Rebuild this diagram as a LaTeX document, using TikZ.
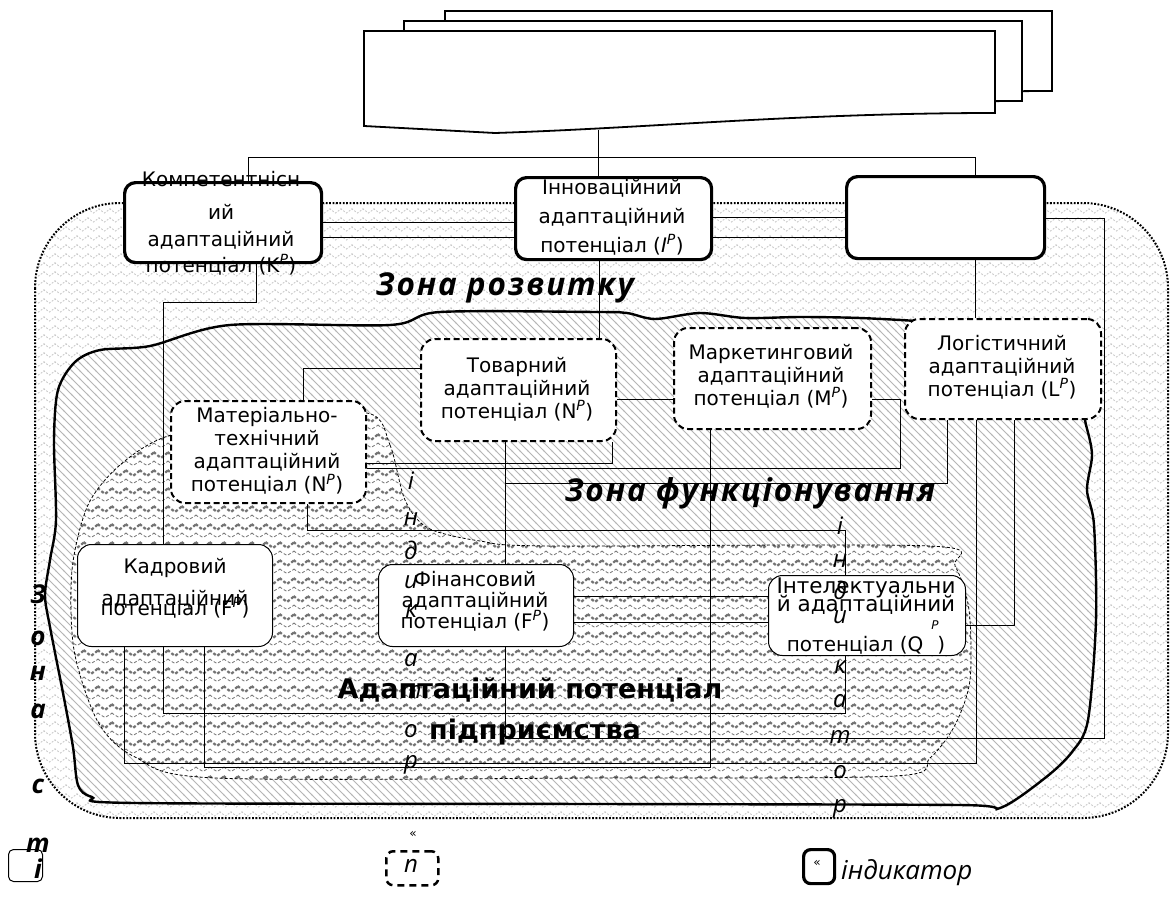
\documentclass[tikz,border=0pt]{standalone}
\usepackage{fontspec}
\setmainfont{DejaVu Sans}
\newfontfamily\itf{Open Sans}
\newfontfamily\itfw{Open Sans}[LetterSpace=6]
\usetikzlibrary{patterns}
\newcommand\supP{\textsuperscript{\itshape P}}
\pgfdeclarepatternformonly{lightzig}{\pgfpoint{-1pt}{-1pt}}{\pgfpoint{12pt}{10pt}}{\pgfpoint{11pt}{9pt}}{%
  \pgfsetlinewidth{0.9pt}%
  \pgfpathmoveto{\pgfpoint{-0.5pt}{6.3pt}}%
  \pgfpathlineto{\pgfpoint{5.5pt}{2pt}}%
  \pgfpathlineto{\pgfpoint{11.5pt}{6.3pt}}%
  \pgfusepath{stroke}}
\pgfdeclarepatternformonly{darkzig}{\pgfpoint{-1pt}{-1pt}}{\pgfpoint{15pt}{19pt}}{\pgfpoint{14pt}{18pt}}{%
  \pgfsetlinewidth{2.2pt}%
  \pgfpathmoveto{\pgfpoint{-0.5pt}{15pt}}%
  \pgfpathlineto{\pgfpoint{7pt}{9pt}}%
  \pgfpathlineto{\pgfpoint{14.5pt}{15pt}}%
  \pgfusepath{stroke}%
  \pgfsetlinewidth{0.8pt}%
  \pgfpathmoveto{\pgfpoint{-0.5pt}{6pt}}%
  \pgfpathlineto{\pgfpoint{7pt}{1.5pt}}%
  \pgfpathlineto{\pgfpoint{14.5pt}{6pt}}%
  \pgfusepath{stroke}}
\pgfdeclarepatternformonly{hatchnw}{\pgfpoint{-1pt}{-1pt}}{\pgfpoint{9pt}{9pt}}{\pgfpoint{8pt}{8pt}}{%
  \pgfsetlinewidth{0.8pt}%
  \pgfpathmoveto{\pgfpoint{-1pt}{9pt}}%
  \pgfpathlineto{\pgfpoint{9pt}{-1pt}}%
  \pgfusepath{stroke}}
\begin{document}
\begin{tikzpicture}[x=1pt,y=-1pt,
  tbox/.style={draw, line width=3.2pt, rounded corners=11pt, fill=white, anchor=north west, inner sep=0},
  dbox/.style={draw, line width=2pt, dash pattern=on 6pt off 3.5pt, rounded corners=14pt, fill=white, anchor=north west, inner sep=0},
  sbox/.style={draw, line width=1pt, rounded corners=14pt, fill=white, anchor=north west, inner sep=0},
  conn/.style={line width=0.9pt},
  docst/.style={fill=white, line width=1.8pt},
  lbl/.style={font=\fontsize{20}{23}\selectfont, align=center, inner sep=0},
  zlbl/.style={font=\itfw\bfseries\itshape\fontsize{31.5}{34}\selectfont, inner sep=0},
  big/.style={font=\bfseries\fontsize{27}{30}\selectfont, inner sep=0},
  vlet/.style={font=\itf\itshape\fontsize{24}{26}\selectfont, inner sep=0},
  vletb/.style={font=\itf\bfseries\itshape\fontsize{26}{28}\selectfont, inner sep=0},
  small/.style={font=\fontsize{12}{13}\selectfont, inner sep=0}]
\useasboundingbox (0,0) rectangle (1172,899);
\fill[white] (0,0) rectangle (1172,899);

% outer zone
\path[pattern=lightzig, pattern color=gray!42, draw, line width=2pt, dash pattern=on 1.8pt off 1.6pt, rounded corners=85pt]
  (35,203) rectangle (1168,818);
% functioning zone
\path[preaction={fill=white}, pattern=hatchnw, pattern color=gray!58, draw, line width=2.4pt]
  plot[smooth cycle, tension=0.5] coordinates {(100,350) (150,346) (230,325) (390,325) (440,312) (597,312) (627,313) (655,319) (700,313) (745,318) (800,317) (860,318) (930,322) (1010,330) (1075,390) (1086,425) (1092,455) (1087,490) (1094,525) (1096,620) (1088,720) (1072,752) (1045,778) (1000,808) (960,805) (600,804) (135,803) (92,797) (78,785) (73,747) (63,693) (50,627) (45,595) (50,560) (56,520) (54,440) (58,390) (75,362)};
% inner zone
\path[preaction={fill=white}, pattern=darkzig, pattern color=black!55, draw, line width=0.8pt, dash pattern=on 3pt off 2pt]
  plot[smooth cycle, tension=0.5] coordinates {(367,413) (390,445) (405,500) (428,528) (480,541) (550,546) (930,546) (955,566) (969,610) (970,680) (955,725) (930,758) (895,776) (600,778) (215,778) (135,757) (98,722) (74,650) (72,570) (88,505) (120,465) (168,436) (260,420)};

% stacked documents
\draw[docst] (445,11) -- (1052,11) -- (1052,91) .. controls (900,91) and (700,105) .. (445,110) -- cycle;
\draw[docst] (404,21) -- (1022,21) -- (1022,101) .. controls (870,101) and (700,115) .. (404,118) -- cycle;
\draw[docst] (364,31) -- (995,31) -- (995,113) .. controls (800,113) and (650,128) .. (495,133) -- (364,126) -- cycle;
\coordinate (docb) at (598,130);
\coordinate (bar) at (598,157);
\coordinate (barL) at (248,157);
\coordinate (barR) at (975,157);

% boxes
\node[tbox, minimum width=197pt, minimum height=80pt] (K) at (123,181) {};
\node[tbox, minimum width=196pt, minimum height=82pt] (I) at (514,176) {};
\node[tbox, minimum width=198pt, minimum height=82pt] (R) at (845,175) {};
\node[dbox, minimum width=195pt, minimum height=102pt] (Mat) at (170,400) {};
\node[dbox, minimum width=195pt, minimum height=102pt] (Tov) at (420,338) {};
\node[dbox, minimum width=197pt, minimum height=101pt] (Mar) at (673,327) {};
\node[dbox, minimum width=196pt, minimum height=100pt] (Log) at (904,318) {};
\node[sbox, minimum width=195pt, minimum height=102pt] (Kad) at (77,544) {};
\node[sbox, minimum width=195pt, minimum height=82pt] (Fin) at (378,564) {};
\node[sbox, minimum width=197pt, minimum height=80pt] (Int) at (768,575) {};

% connectors
\draw[conn] (docb) -- (bar);
\draw[conn] (barL) -- (barR);
\draw[conn] (barL) -- (barL |- K.north);
\draw[conn] (bar) -- (bar |- I.north);
\draw[conn] (barR) -- (barR |- R.north);
\draw[conn] (K.east |- 0,222) -- (I.west |- 0,222);
\draw[conn] (K.east |- 0,237) -- (I.west |- 0,237);
\draw[conn] (I.east |- 0,217) -- (R.west |- 0,217);
\draw[conn] (I.east |- 0,237) -- (R.west |- 0,237);
\draw[conn] (R.east |- 0,218) -- (1104,218) -- (1104,738) -- (505,738) -- (Fin.south -| 505,0);
\draw[conn] (K.south -| 256,0) -- (256,302) -- (163,302) -- (Kad.north -| 163,0);
\draw[conn] (I.south -| 599,0) -- (Tov.north -| 599,0);
\draw[conn] (R.south -| 975,0) -- (Log.north -| 975,0);
\draw[conn] (Mat.north -| 303,0) -- (303,368) -- (Tov.west |- 0,368);
\draw[conn] (Tov.east |- 0,399) -- (Mar.west |- 0,399);
\draw[conn] (Mat.east |- 0,463) -- (612,463) -- (Tov.south -| 612,0);
\draw[conn] (Mat.east |- 0,468) -- (900,468) -- (900,399) -- (Mar.east |- 0,399);
\draw[conn] (Tov.south -| 505,0) -- (Fin.north -| 505,0);
\draw[conn] (Log.south -| 947,0) -- (947,483) -- (505,483);
\draw[conn] (Mar.south -| 710,0) -- (710,767) -- (204,767) -- (Kad.south -| 204,0);
\draw[conn] (Log.south -| 976,0) -- (976,763) -- (124,763) -- (Kad.south -| 124,0);
\draw[conn] (Log.south -| 1014,0) -- (1014,625) -- (Int.east |- 0,625);
\draw[conn] (Mat.south -| 307,0) -- (307,530) -- (845,530) -- (Int.north -| 845,0);
\draw[conn] (Kad.south -| 163,0) -- (163,713) -- (845,713) -- (Int.south -| 845,0);
\draw[conn] (Fin.east |- 0,596) -- (Int.west |- 0,596);
\draw[conn] (Fin.east |- 0,622) -- (Int.west |- 0,622);

% box texts
\node[lbl] (tK1) at (221,179) {Компетентнісн};
\node[lbl] (tK2) at (221,212) {ий};
\node[lbl] (tK3) at (221,240) {адаптаційний};
\node[lbl] (tK4) at (221,265) {потенціал (K\supP)};
\node[lbl, font=\fontsize{20}{29}\selectfont] (tI) at (612,217) {Інноваційний\\адаптаційний\\потенціал (\textit{I}\supP)};
\node[lbl] (tMat) at (267,451) {Матеріально-\\технічний\\адаптаційний\\потенціал (N\supP)};
\node[lbl] (tTov) at (517,389) {Товарний\\адаптаційний\\потенціал (N\supP)};
\node[lbl] (tMar) at (771,376) {Маркетинговий\\адаптаційний\\потенціал (M\supP)};
\node[lbl] (tLog) at (1002,367) {Логістичний\\адаптаційний\\потенціал (L\supP)};
\node[lbl] (tKad1) at (175,568) {Кадровий};
\node[lbl] (tKad2) at (175,599) {адаптаційний};
\node[lbl] (tKad3) at (175,608) {потенціал (F\supP)};
\node[lbl, font=\fontsize{20}{21}\selectfont] (tFin) at (475,601) {Фінансовий\\адаптаційний\\потенціал (F\supP)};
\node[lbl, font=\fontsize{21.5}{23}\selectfont] (tInt1) at (866,588) {Інтелектуальни};
\node[lbl, font=\fontsize{21.5}{23}\selectfont] (tInt2) at (866,605) {й адаптаційний};
\node[lbl] (tInt3) at (866,645) {потенціал (Q\hspace{14pt})};
\node[lbl, font=\itshape\fontsize{12}{13}\selectfont] (tInt4) at (935,625) {P};

% zone texts
\node[zlbl] (z1) at (505,288) {Зона розвитку};
\node[zlbl] (z2) at (750,493) {Зона функціонування};
\node[big] (z3) at (530,690) {Адаптаційний потенціал};
\node[big] (z4) at (535,732) {підприємства};

% vertical letters
\foreach \ch/\yy in {і/481,н/519,д/550,и/582,к/611,а/660,т/692,о/731,р/765}
  \node[vlet] (va\yy) at (411,\yy) {\ch};
\foreach \ch/\yy in {і/526,н/561,д/590,и/617,к/667,а/701,т/737,о/772,р/809}
  \node[vlet] (vb\yy) at (840,\yy) {\ch};

% legend
\node[sbox, rounded corners=5pt, minimum width=34pt, minimum height=32pt] (lg1) at (8,849) {};
\node[dbox, line width=2.5pt, dash pattern=on 7pt off 5pt, rounded corners=7pt, minimum width=52pt, minimum height=34pt] (lg2) at (385,850) {};
\node[vlet] (lg2t) at (411,866) {п};
\node[small] (lg2q) at (413,834) {«};
\node[tbox, rounded corners=7pt, minimum width=31pt, minimum height=34pt] (lg3) at (802,848) {};
\node[small] (lg3q) at (817,863) {«};
\node[vlet, anchor=west, font=\itf\itshape\fontsize{26}{28}\selectfont] (lg3t) at (841,873) {індикатор};

\foreach \ch/\yy in {З/594,о/638,н/673,а/711,с/786,т/845,і/869}
  \node[vletb] (vl\yy) at (38,\yy) {\ch};
\end{tikzpicture}
\end{document}
